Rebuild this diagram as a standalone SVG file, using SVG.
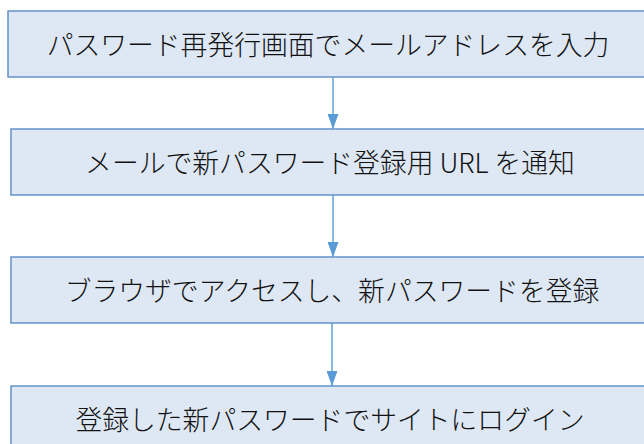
<svg xmlns="http://www.w3.org/2000/svg" width="644" height="444" viewBox="0 0 644 444">
<defs>
<style>
.box{fill:#dee8f5;stroke:#5a8cc8;stroke-width:1.4}
.lbl{font-family:"Noto Sans CJK JP","Noto Sans",sans-serif;font-size:26.8px;font-weight:300;fill:#111;text-anchor:middle}
.conn{stroke:#5b9bd5;stroke-width:1.4;fill:none}
</style>
<marker id="ah" markerWidth="15" markerHeight="11" refX="15" refY="5.5" orient="auto" markerUnits="userSpaceOnUse" viewBox="0 0 15 11">
<path d="M0,0 L15,5.5 L0,11 Z" fill="#5b9bd5"/>
</marker>
</defs>
<rect width="644" height="444" fill="#ffffff"/>
<g id="node1"><rect class="box" x="8" y="11" width="660" height="66"/><text class="lbl" x="328" y="55">パスワード再発行画面でメールアドレスを入力</text></g>
<g id="node2"><rect class="box" x="11" y="129" width="660" height="66"/><text class="lbl" x="330" y="173">メールで新パスワード登録用 URL を通知</text></g>
<g id="node3"><rect class="box" x="11" y="257" width="660" height="66"/><text class="lbl" x="332" y="301">ブラウザでアクセスし、新パスワードを登録</text></g>
<g id="node4"><rect class="box" x="11" y="386" width="660" height="70"/><text class="lbl" x="330" y="430">登録した新パスワードでサイトにログイン</text></g>
<g id="connectors">
<line class="conn" x1="333" y1="77" x2="333" y2="129" marker-end="url(#ah)"/>
<line class="conn" x1="333" y1="195" x2="333" y2="257" marker-end="url(#ah)"/>
<line class="conn" x1="332" y1="323" x2="332" y2="386" marker-end="url(#ah)"/>
</g>
</svg>
